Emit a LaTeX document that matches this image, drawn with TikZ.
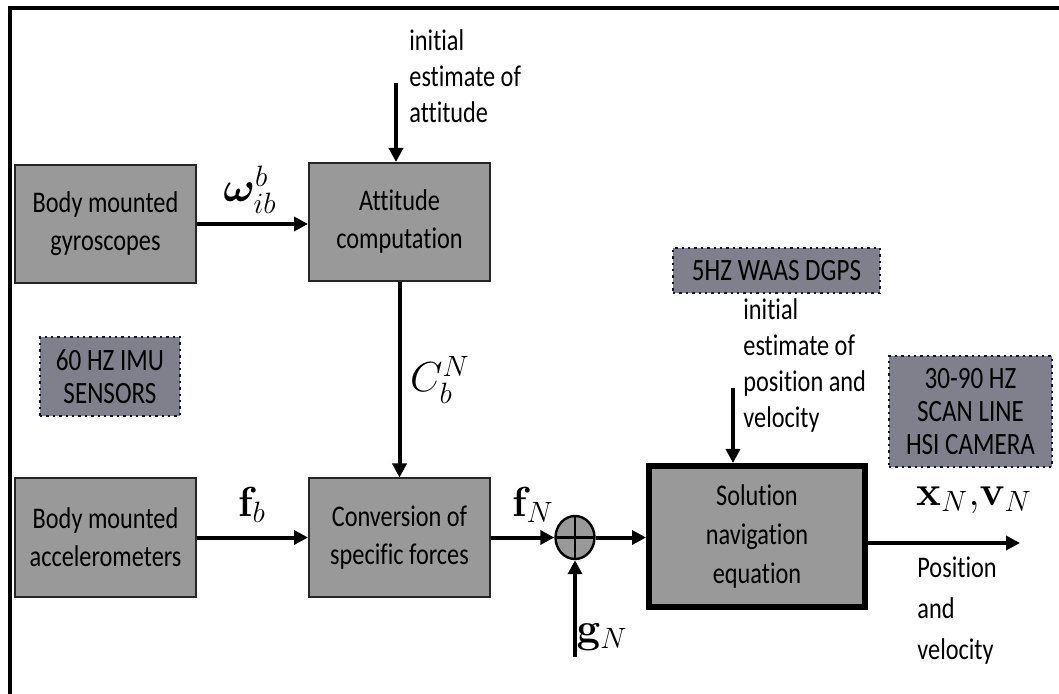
\RequirePackage{fix-cm}
\documentclass[tikz,border=0pt]{standalone}
\usepackage{amsmath,bm}
\usepackage[no-math]{fontspec}
\setmainfont{Carlito}[FakeStretch=0.81,Ligatures=NoCommon]
\usetikzlibrary{arrows.meta,shapes.geometric}
\definecolor{boxgray}{RGB}{153,153,153}
\definecolor{dotfill}{RGB}{128,128,140}
\definecolor{dotline}{RGB}{20,20,50}
\begin{document}
\begin{tikzpicture}[x=0.5pt,y=-0.5pt,
  blk/.style={draw=black!85, line width=1pt, fill=boxgray, align=center, inner sep=0pt,
    minimum width=90.5pt, minimum height=59pt, font=\fontsize{15}{19}\selectfont},
  bigblk/.style={draw=black, line width=3pt, fill=boxgray, align=center, inner sep=0pt,
    minimum width=108pt, minimum height=70.5pt, font=\fontsize{15}{19.5}\selectfont},
  dotbox/.style={draw=dotline, line width=1.2pt, dotted, fill=dotfill, align=center, inner sep=0pt,
    font=\fontsize{15.5}{16.5}\selectfont},
  freetxt/.style={align=left, inner sep=0pt, font=\fontsize{15}{18}\selectfont},
  mlab/.style={inner sep=0pt, font=\fontsize{21}{22}\selectfont},
  conn/.style={line width=2pt, -{Triangle[length=7pt,width=7pt]}},
  sumnode/.style={ellipse, draw=black, line width=1.2pt, fill=boxgray, minimum width=19.5pt,
    minimum height=21.5pt, inner sep=0pt,
    path picture={\draw[line width=1.2pt] (path picture bounding box.north) -- (path picture bounding box.south)
      (path picture bounding box.west) -- (path picture bounding box.east);}}
]
\useasboundingbox (0,0) rectangle (1059,694);
\draw[line width=2pt] (10,8) rectangle (1085,720);

% blocks
\node[blk] (gyro) at (105.5,224) {Body mounted\\gyroscopes};
\node[blk] (att) at (399.5,222) {Attitude\\computation};
\node[blk] (acc) at (105.5,537.5) {Body mounted\\accelerometers};
\node[blk] (conv) at (399.5,537.5) {Conversion of\\specific forces};
\node[sumnode] (sum) at (575,537.5) {};
\node[bigblk] (sol) at (757,536.5) {Solution\\navigation\\equation};

% dotted boxes
\node[dotbox, minimum width=70pt, minimum height=39.5pt] (imu) at (110,376.5) {60 HZ IMU\\SENSORS};
\node[dotbox, minimum width=103.5pt, minimum height=22.5pt] (gps) at (776.5,270.5) {5HZ WAAS DGPS};
\node[dotbox, minimum width=81.5pt, minimum height=55.5pt] (cam) at (970.5,411.5) {30-90 HZ\\SCAN LINE\\HSI CAMERA};

% free texts
\node[freetxt, anchor=west] (initatt) at (409,76) {initial\\estimate of\\attitude};
\node[freetxt, anchor=west] (initpos) at (743,366) {initial\\estimate of\\position and\\velocity};
\node[freetxt, anchor=west, font=\fontsize{15}{20.5}\selectfont] (posvel) at (917,611) {Position\\and\\velocity};

% math labels
\node[mlab] (omega) at (250,190) {$\boldsymbol{\omega}_{ib}^{b}$};
\node[mlab] (cbn) at (440,380) {$C_b^N$};
\node[mlab] (fb) at (252,505) {$\mathbf{f}_b$};
\node[mlab] (fn) at (533,505) {$\mathbf{f}_N$};
\node[mlab] (gn) at (602,637) {$\mathbf{g}_N$};
\node[mlab] (xv) at (974,500) {$\mathbf{x}_N{,}\mathbf{v}_N$};

% coordinates for free ends
\coordinate (attin) at (396,83);
\coordinate (posin) at (733,388);
\coordinate (gin) at (575,657);
\coordinate (outend) at (1020,543);

% connectors
\draw[conn] (gyro.east) -- (gyro.east -| att.west);
\draw[conn] (attin) -- (attin |- att.north);
\draw[conn] (att.south) -- (conv.north);
\draw[conn] (acc.east) -- (conv.west);
\draw[conn] (conv.east) -- (sum.west);
\draw[conn] (sum.east) -- (sum.east -| sol.west);
\draw[conn] (gin) -- (sum.south);
\draw[conn] (posin) -- (posin |- sol.north);
\draw[conn] (outend -| sol.east) -- (outend);
\end{tikzpicture}
\end{document}
